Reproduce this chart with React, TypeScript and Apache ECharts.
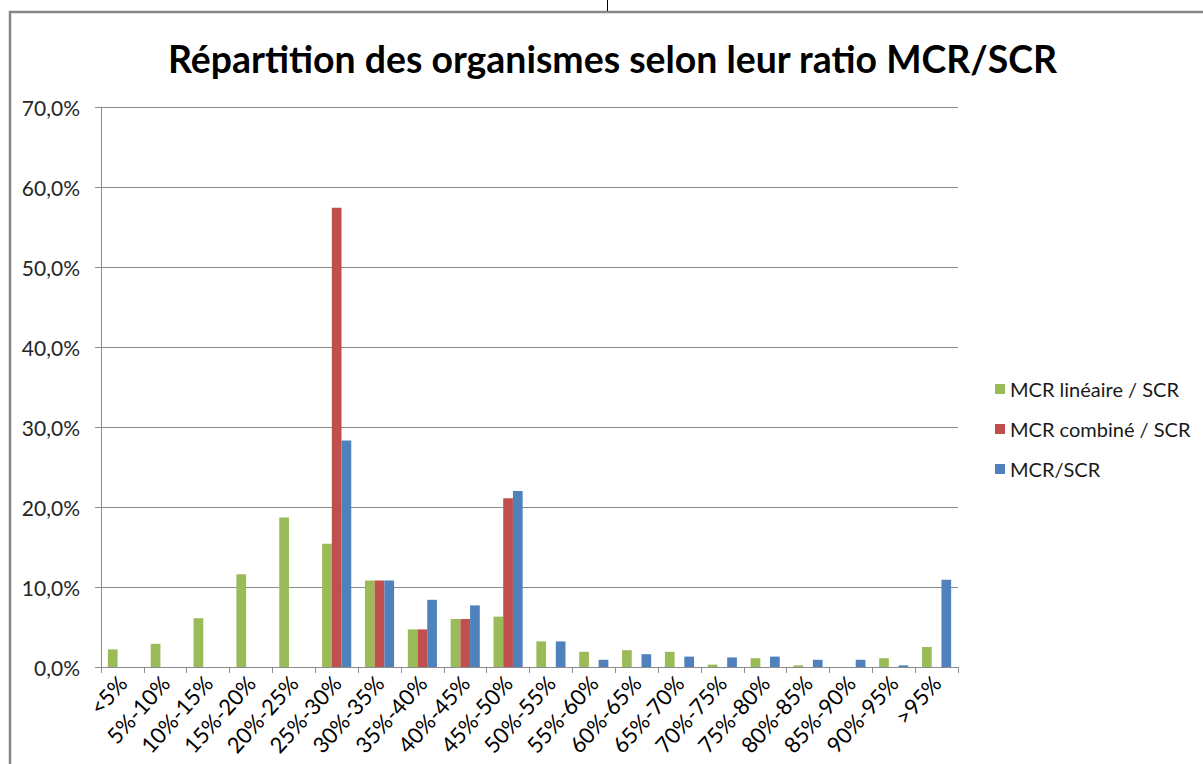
import React, { useEffect, useRef } from "react";
import * as echarts from "echarts";

const categories = ["<5%", "5%-10%", "10%-15%", "15%-20%", "20%-25%", "25%-30%", "30%-35%", "35%-40%", "40%-45%", "45%-50%", "50%-55%", "55%-60%", "60%-65%", "65%-70%", "70%-75%", "75%-80%", "80%-85%", "85%-90%", "90%-95%", ">95%"];
const seriesNames = ["MCR linéaire / SCR", "MCR combiné / SCR", "MCR/SCR"];
const lineaire = [2.2, 2.9, 6.1, 11.6, 18.7, 15.4, 10.8, 4.7, 6.0, 6.3, 3.2, 1.9, 2.1, 1.9, 0.3, 1.1, 0.2, 0, 1.1, 2.5];
const combine = [0, 0, 0, 0, 0, 57.4, 10.8, 4.7, 6.0, 21.1, 0, 0, 0, 0, 0, 0, 0, 0, 0, 0];
const mcrScr = [0, 0, 0, 0, 0, 28.3, 10.8, 8.4, 7.7, 22.0, 3.2, 0.9, 1.6, 1.3, 1.2, 1.3, 0.9, 0.9, 0.2, 10.9];
const colors = ["#9BBB59", "#C0504D", "#4F81BD"];
const title = "Répartition des organismes selon leur ratio MCR/SCR";

const FONT = "Lato, 'Open Sans', sans-serif";

export default function App() {
  const ref = useRef<HTMLDivElement>(null);
  useEffect(() => {
    if (!ref.current) return;
    const chart = echarts.init(ref.current, null, { renderer: "svg" });
    const data = [lineaire, combine, mcrScr];
    chart.setOption({
      animation: false,
      backgroundColor: "#ffffff",
      title: {
        text: title,
        left: 163,
        top: 35,
        textStyle: { fontFamily: FONT, fontSize: 37.4, fontWeight: "bold", color: "#000" },
      },
      legend: {
        orient: "vertical",
        left: 990,
        top: 374,
        itemWidth: 10,
        itemHeight: 10,
        itemGap: 20,
        icon: "rect",
        textStyle: { fontFamily: FONT, fontSize: 20, color: "#1a1a1a", lineHeight: 20 },
        data: seriesNames,
      },
      grid: { left: 101, right: 245, top: 107, bottom: 97, containLabel: false },
      xAxis: {
        type: "category",
        data: categories,
        boundaryGap: true,
        axisLine: { show: true, lineStyle: { color: "#8c8c8c", width: 1 } },
        axisTick: { show: true, alignWithLabel: false, length: 6, lineStyle: { color: "#8c8c8c" } },
        axisLabel: {
          interval: 0,
          rotate: 48,
          margin: 12,
          fontFamily: FONT,
          fontSize: 22,
          color: "#000",
        },
        splitLine: { show: false },
      },
      yAxis: {
        type: "value",
        min: 0,
        max: 70,
        interval: 10,
        axisLine: { show: true, lineStyle: { color: "#8c8c8c", width: 1 } },
        axisTick: { show: true, length: 6, lineStyle: { color: "#8c8c8c" } },
        axisLabel: {
          margin: 21,
          fontFamily: FONT,
          fontSize: 21,
          color: "#262626",
          formatter: (v: number) => v.toFixed(1).replace(".", ",") + "%",
        },
        splitLine: { show: true, lineStyle: { color: "#8c8c8c", width: 1 } },
      },
      series: seriesNames.map((name, i) => ({
        name,
        type: "bar",
        data: data[i],
        barGap: "0%",
        barCategoryGap: "32%",
        itemStyle: { color: colors[i] },
      })),
      graphic: [
        {
          type: "rect",
          shape: { x: 10, y: 12, width: 1400, height: 1000 },
          style: { fill: "none", stroke: "#878787", lineWidth: 2.5 },
          silent: true,
        },
        {
          type: "line",
          shape: { x1: 607.5, y1: 0, x2: 607.5, y2: 11 },
          style: { stroke: "#000", lineWidth: 1 },
          silent: true,
        },
      ],
    });
    return () => chart.dispose();
  }, []);
  return (
    <div
      ref={ref}
      style={{ position: "fixed", left: 0, top: 0, width: 1203, height: 764, background: "#fff" }}
    />
  );
}
